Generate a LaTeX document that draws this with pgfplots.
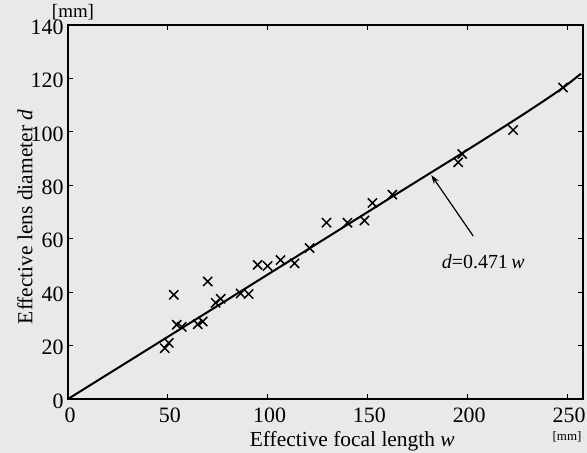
\documentclass[border=0pt]{standalone}
\usepackage{pgfplots}
\pgfplotsset{compat=1.18}
\usepackage{fontspec}
\setmainfont{Liberation Serif}
\usetikzlibrary{arrows.meta}
\definecolor{paper}{RGB}{233,233,231}
\begin{document}
\begin{tikzpicture}
\path[use as bounding box, fill=paper] (-68bp,-54bp) rectangle (519bp,399bp);
\begin{axis}[
  scale only axis, width=515bp, height=374bp,
  xmin=0, xmax=258, ymin=0, ymax=140,
  xtick={0,50,...,250}, ytick={0,20,...,140},
  xtick pos=both, ytick pos=both,
  xticklabel pos=bottom, yticklabel pos=left,
  tick align=inside, major tick length=5bp,
  axis line style={line width=1.6bp},
  every tick/.style={line width=1bp, black},
  /pgf/number format/assume math mode=true,
  tick label style={font=\fontsize{22}{22}\selectfont},
  yticklabel style={yshift=-2bp, xshift=-1bp},
  xticklabel style={yshift=-5bp, xshift=2bp},
  clip=false,
]
\addplot[line width=2bp, black, smooth] coordinates {
(0,0) (90,41.9) (166,77.4) (200,93.2) (228,106.5) (247,116) (257,121.8)
};
\addplot[only marks, mark=x, mark size=6.5bp, mark options={line width=1.5bp, black}] coordinates {
(48.5,19) (50.5,21) (53,39) (54.5,27.8) (57,27) (65,28) (67.5,29) (70,44)
(74,36) (76.5,37.5) (86.5,39.5) (90.5,39.3) (95,50.2) (100,49.8) (106.5,52)
(113.5,50.8) (121,56.5) (129.5,66) (140,66) (148.5,66.8) (152.5,73.4) (162.5,76.5)
(195.5,88.6) (197.5,91.7) (223,100.7) (248,116.6)
};
\draw[-{Stealth[length=9bp,width=6bp]}, line width=1.2bp] (axis cs:203,61) -- (axis cs:182,83.8);
\node[font=\fontsize{20}{20}\selectfont] at (axis cs:208,51.5) {\textit{d}=0.471\,\textit{w}};
\node[font=\fontsize{21.5}{21.5}\selectfont, anchor=base] at ([yshift=-47bp]rel axis cs:0.552,0) {Effective focal length \textit{w}};
\node[font=\fontsize{21.5}{21.5}\selectfont, rotate=90] at ([xshift=-43bp]rel axis cs:0,0.487) {Effective lens diameter \textit{d}};
\node[font=\fontsize{19}{19}\selectfont, anchor=base, inner sep=0pt] at ([xshift=5bp,yshift=7bp]rel axis cs:0,1) {[mm]};
\node[font=\fontsize{13}{13}\selectfont, anchor=north] at ([yshift=-29bp]axis cs:250,0) {[mm]};
\end{axis}
\end{tikzpicture}
\end{document}
